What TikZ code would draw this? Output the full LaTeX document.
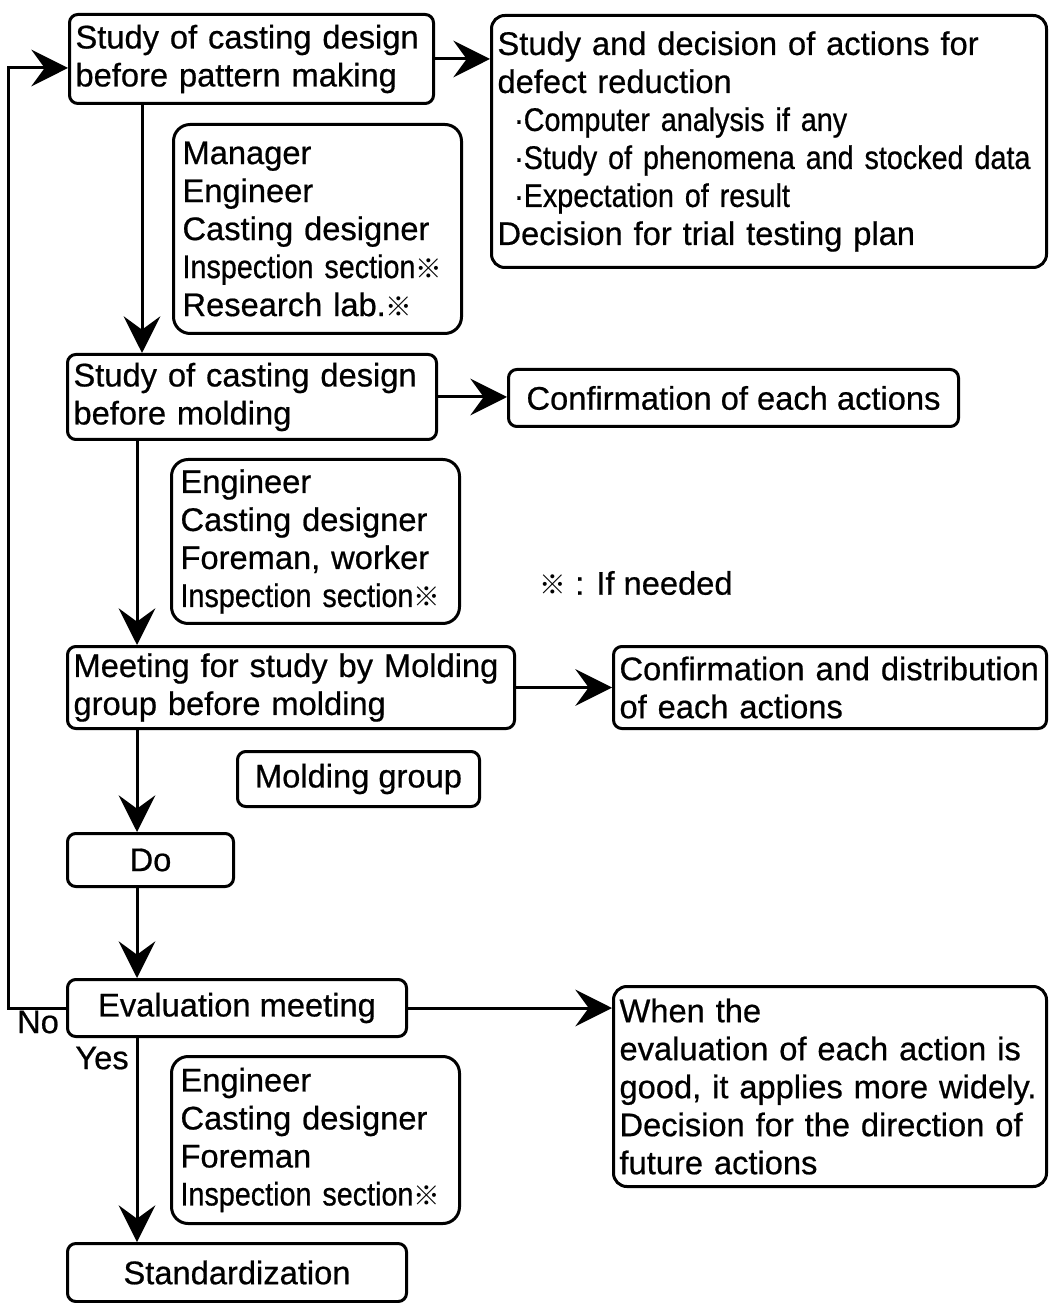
\documentclass[tikz,border=0pt]{standalone}
\usepackage{fontspec}
\setmainfont[FakeBold=0.6]{Liberation Sans}
\newfontfamily\narrowfont[FakeStretch=0.88, FakeBold=0.6]{Liberation Sans}
\newfontfamily\cjk{Noto Sans CJK JP}
\usetikzlibrary{positioning, arrows.meta}
\newcommand{\refmark}{{\cjk\fontsize{8}{8}\selectfont ※}}

\begin{document}
\begin{tikzpicture}[x=0.3pt, y=-0.3pt, line width=0.9pt,
    font=\fontsize{9.8}{11.4}\selectfont,
    stagebox/.style={draw=black, rounded corners=2.5pt, anchor=north west, inner xsep=1.8pt, inner ysep=1pt, align=left},
    crewbox/.style={draw=black, rounded corners=5pt, anchor=north west, inner xsep=2.7pt, inner ysep=1pt, align=left},
    arr/.style={-{Stealth[length=11pt, width=11pt, inset=4pt]}}]
    \useasboundingbox (0,0) rectangle (1048,1303);

    \node[stagebox, text width=105.6pt, minimum height=26.7pt] (pattern) at (68,13) {Study of casting design\\before pattern making};
    \node[stagebox, rounded corners=4pt, text width=162.9pt, minimum height=75.6pt] (actions) at (490,14) {Study and decision of actions for\\defect reduction\\
        \hspace*{5pt}{\narrowfont ·Computer analysis if any}\\
        \hspace*{5pt}{\narrowfont ·Study of phenomena and stocked data}\\
        \hspace*{5pt}{\narrowfont ·Expectation of result}\\
        Decision for trial testing plan};
    \node[crewbox, text width=81pt, minimum height=62.7pt] (crewA) at (172,123) {Manager\\Engineer\\Casting designer\\{\narrowfont Inspection section}\refmark\\Research lab.\refmark};

    \node[stagebox, text width=107.1pt, minimum height=25.5pt] (design) at (66,353) {Study of casting design\\before molding};
    \node[stagebox, minimum width=135pt, minimum height=17.1pt, align=center] (confirm) at (507,368) {Confirmation of each actions};
    \node[crewbox, text width=81pt, minimum height=49.2pt] (crewB) at (170,458) {Engineer\\Casting designer\\Foreman, worker\\{\narrowfont Inspection section}\refmark};
    \node (note) at (636,583) {\refmark{} : If needed};

    \node[stagebox, text width=130.5pt, minimum height=24.6pt] (meeting) at (66,645) {Meeting for study by Molding\\group before molding};
    \node[stagebox, text width=126.3pt, minimum height=24.6pt] (distribute) at (612,645) {Confirmation and distribution\\of each actions};
    \node[crewbox, rounded corners=2.5pt, minimum width=72.6pt, minimum height=16.5pt, align=center] (crewC) at (236,750) {Molding group};

    \node[stagebox, minimum width=49.8pt, minimum height=15.9pt, align=center] (do) at (66,832) {Do};
    \node[stagebox, minimum width=101.7pt, minimum height=17.1pt, align=center] (evaluate) at (66,978) {Evaluation meeting};
    \node[stagebox, rounded corners=4pt, text width=126.3pt, minimum height=60pt] (widely) at (612,985) {When the\\evaluation of each action is\\good, it applies more widely.\\Decision for the direction of\\future actions};
    \node[crewbox, text width=81pt, minimum height=50.1pt] (crewD) at (170,1055) {Engineer\\Casting designer\\Foreman\\{\narrowfont Inspection section}\refmark};
    \node[stagebox, minimum width=101.7pt, minimum height=17.4pt, align=center] (standard) at (66,1242) {Standardization};

    \node (no) at (38,1022) {No};
    \node (yes) at (102,1058) {Yes};

    \coordinate (spineA) at (142,0);
    \coordinate (spineB) at (137,0);
    \coordinate (loop) at (8,68);

    \draw[arr] (pattern.east) -- (pattern.east -| actions.west);
    \draw[arr] (pattern.south -| spineA) -- (design.north -| spineA);
    \draw[arr] (design.east) -- (design.east -| confirm.west);
    \draw[arr] (design.south -| spineB) -- (meeting.north -| spineB);
    \draw[arr] (meeting.east) -- (distribute.west);
    \draw[arr] (meeting.south -| spineB) -- (do.north -| spineB);
    \draw[arr] (do.south -| spineB) -- (evaluate.north -| spineB);
    \draw[arr] (evaluate.east) -- (evaluate.east -| widely.west);
    \draw[arr] (evaluate.south -| spineB) -- (standard.north -| spineB);
    \draw[arr] (evaluate.west) -| (loop) -- (loop -| pattern.west);
\end{tikzpicture}
\end{document}
